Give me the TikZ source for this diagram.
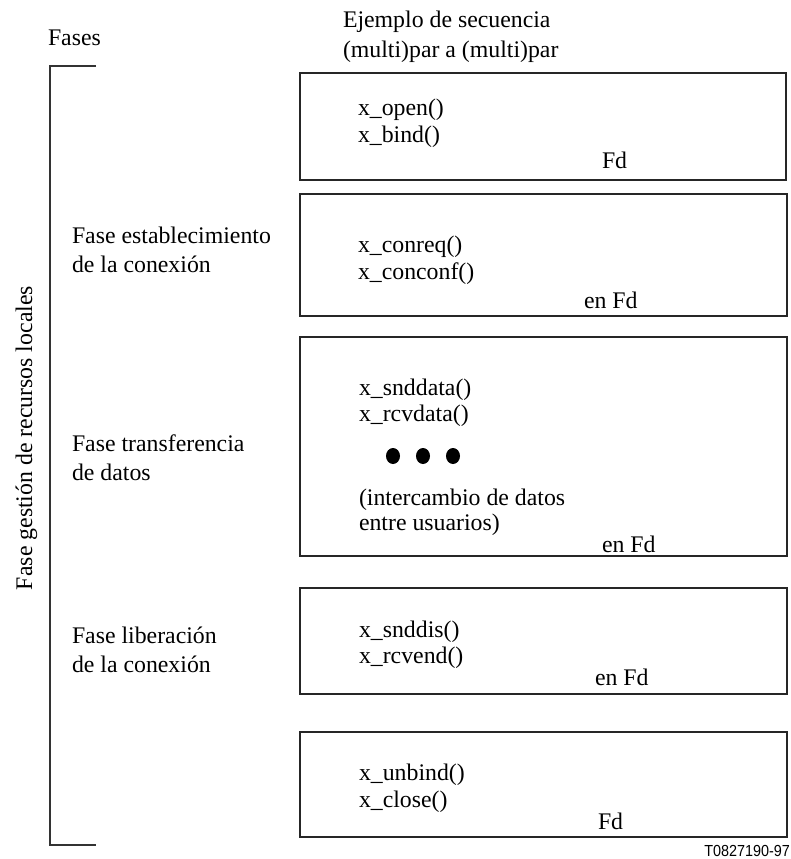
\documentclass[tikz,border=0pt]{standalone}
\usepackage{fontspec}
\setmainfont{Liberation Serif}
\newfontfamily\labelsans{Liberation Sans}
\begin{document}
\begin{tikzpicture}[x=1pt,y=-1pt,
  every node/.style={inner sep=0pt,outer sep=0pt,anchor=base west},
  txt/.style={font=\fontsize{23.8}{28}\selectfont},
  frame/.style={draw=black!85,line width=1.2pt},
  bracketline/.style={draw=black!80,line width=1.2pt},
  dot/.style={fill=black,draw=none}]
\useasboundingbox (0,0) rectangle (790,859);

% column headings
\node[txt] (fases) at (48,46) {Fases};
\node[txt] (ej1) at (343,28) {Ejemplo de secuencia};
\node[txt] (ej2) at (343,57) {(multi)par a (multi)par};

% bracket spanning all phases
\coordinate (btop) at (96,66);
\coordinate (bbot) at (96,845);
\draw[bracketline] (btop) -- (50,66) -- (50,845) -- (bbot);
\node[txt,rotate=90] (gestion) at (32,590) {Fase gestión de recursos locales};

% phase names
\node[txt] (est1) at (72,243) {Fase establecimiento};
\node[txt] (est2) at (72,272) {de la conexión};
\node[txt] (tra1) at (72,451) {Fase transferencia};
\node[txt] (tra2) at (72,480) {de datos};
\node[txt] (lib1) at (72,643) {Fase liberación};
\node[txt] (lib2) at (72,672) {de la conexión};

% primitive sequences
\draw[frame] (300,73) rectangle (786,180);
\node[txt] (open) at (358,115) {x\_open()};
\node[txt] (bind) at (358,142) {x\_bind()};
\node[txt] (fd1) at (602,168) {Fd};

\draw[frame] (300,194) rectangle (787,316);
\node[txt] (conreq) at (358,252) {x\_conreq()};
\node[txt] (conconf) at (358,279) {x\_conconf()};
\node[txt] (fd2) at (584,308) {en Fd};

\draw[frame] (300,337) rectangle (787,556);
\node[txt] (snddata) at (359,395) {x\_snddata()};
\node[txt] (rcvdata) at (359,421) {x\_rcvdata()};
\fill[dot] (393,456) ellipse (7 and 8);
\fill[dot] (423,456) ellipse (7 and 8);
\fill[dot] (453,456) ellipse (7 and 8);
\node[txt] (inter1) at (359,505) {(intercambio de datos};
\node[txt] (inter2) at (359,530) {entre usuarios)};
\node[txt] (fd3) at (602,552) {en Fd};

\draw[frame] (300,588) rectangle (787,694);
\node[txt] (snddis) at (359,637) {x\_snddis()};
\node[txt] (rcvend) at (359,663) {x\_rcvend()};
\node[txt] (fd4) at (595,685) {en Fd};

\draw[frame] (300,732) rectangle (787,837);
\node[txt] (unbind) at (359,780) {x\_unbind()};
\node[txt] (close) at (359,807) {x\_close()};
\node[txt] (fd5) at (598,829) {Fd};

% figure reference
\node[anchor=base east,font=\labelsans\fontsize{16}{18}\selectfont] (ref) at (790,856) {\scalebox{0.9}[1]{T0827190-97}};
\end{tikzpicture}
\end{document}
